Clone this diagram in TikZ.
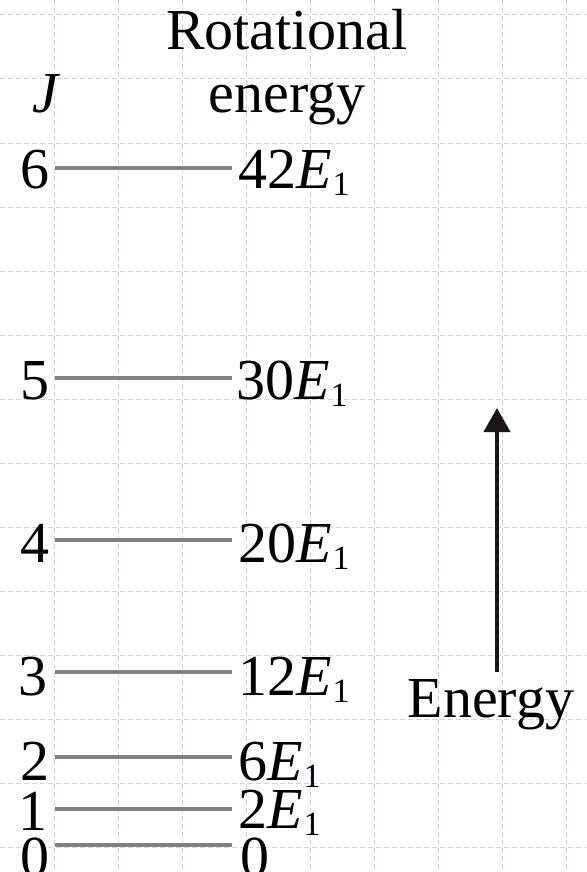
\documentclass[tikz,border=0pt]{standalone}
\usepackage{fontspec}
\setmainfont{Liberation Serif}
\usetikzlibrary{arrows.meta}
\definecolor{gridblue}{RGB}{200,212,248}
\definecolor{levelgray}{RGB}{128,128,128}
\definecolor{arrowblack}{RGB}{26,23,22}
\newcommand\Eone{\textit{E}\kern1pt\raisebox{-7pt}{\fontsize{34}{34}\selectfont 1}}
\begin{document}
\begin{tikzpicture}[x=1pt,y=-1pt,
  lbl/.style={inner sep=0pt, font=\fontsize{58}{62}\selectfont},
  levelline/.style={draw=levelgray, line width=4pt},
  gridline/.style={draw=gridblue, line width=1pt, dash pattern=on 5pt off 3pt},
  energyarrow/.style={draw=arrowblack, line width=4pt, -{Triangle[length=24pt,width=26pt]}}]
\useasboundingbox (0,0) rectangle (586,872);
\fill[white] (0,0) rectangle (586,872);
\foreach \x in {54,118,...,566} \draw[gridline] (\x,0) -- (\x,872);
\foreach \y in {15,79,...,847} \draw[gridline] (0,\y) -- (586,\y);
% headers
\node[lbl, anchor=base] (hdr1) at (287,50) {Rotational};
\node[lbl, anchor=base] (hdr2) at (287,113) {energy};
\node[lbl, anchor=base] (hdrJ) at (47,113) {\textit{J}};
% J numbers
\node[lbl, anchor=base east] (n6) at (50,188) {6};
\node[lbl, anchor=base east] (n5) at (50,399) {5};
\node[lbl, anchor=base east] (n4) at (50,562) {4};
\node[lbl, anchor=base east] (n3) at (48,695) {3};
\node[lbl, anchor=base east] (n2) at (50,780) {2};
\node[lbl, anchor=base east] (n1) at (48,830) {1};
\node[lbl, anchor=base east] (n0) at (50,876) {0};
% energies
\node[lbl, anchor=base west] (e6) at (238,188) {42\Eone};
\node[lbl, anchor=base west] (e5) at (236,399) {30\Eone};
\node[lbl, anchor=base west] (e4) at (238,562) {20\Eone};
\node[lbl, anchor=base west] (e3) at (238,695) {12\Eone};
\node[lbl, anchor=base west] (e2) at (238,780) {6\Eone};
\node[lbl, anchor=base west] (e1) at (238,828) {2\Eone};
\node[lbl, anchor=base west] (e0) at (240,876) {0};
% levels
\foreach \j/\y in {6/168,5/378,4/540,3/672,2/757,1/809,0/845}{
  \coordinate (a\j) at (55,\y);
  \coordinate (b\j) at (232,\y);
  \draw[levelline] (a\j) -- (b\j);
}
% energy arrow
\coordinate (arrbot) at (497,672);
\coordinate (arrtop) at (497,408);
\draw[energyarrow] (arrbot) -- (arrtop);
\node[lbl, anchor=base] (elbl) at (491,717) {Energy};
\end{tikzpicture}
\end{document}
